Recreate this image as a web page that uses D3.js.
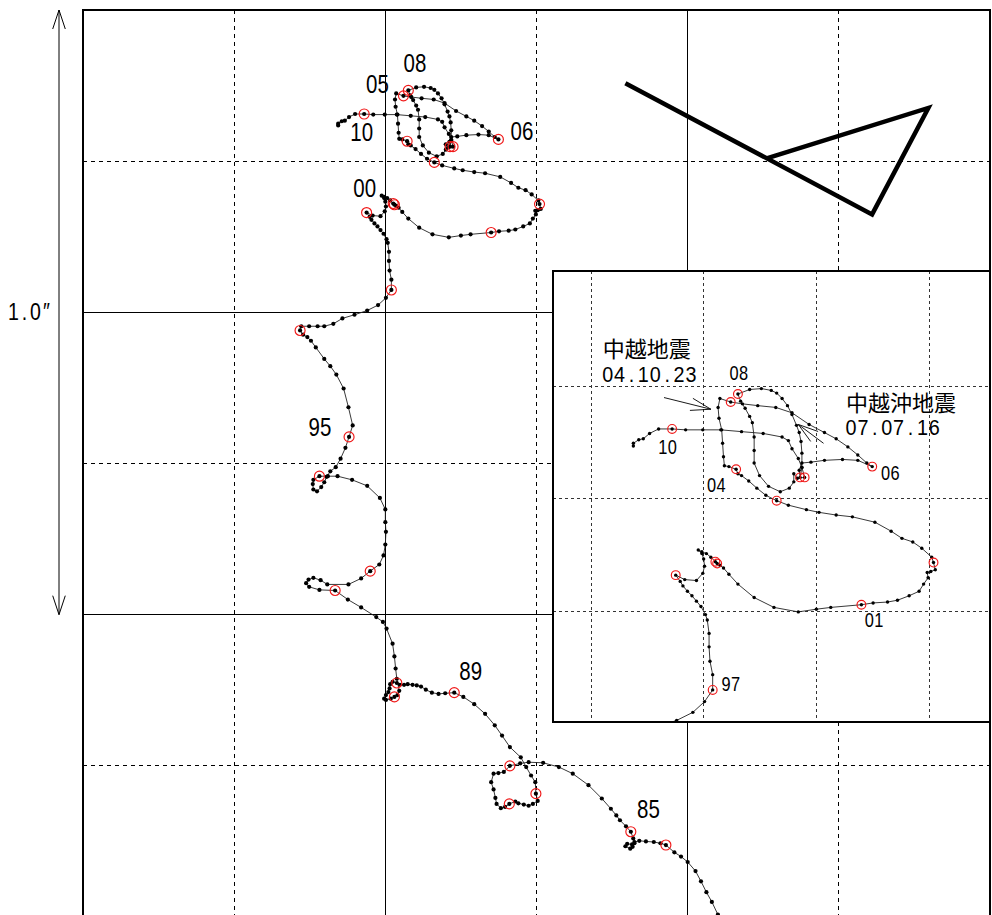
<!DOCTYPE html>
<html><head><meta charset="utf-8">
<script src="https://cdn.jsdelivr.net/npm/d3@7"></script>
<style>body{margin:0;background:#fff}svg{display:block}</style>
</head><body>
<svg id="c" width="992" height="915"></svg>
<script>
// ---- data (milli-arcsec) ----
const track = [
[557,-1012],[550,-996],[540,-975],[531,-959],[522,-941],[513,-924],[500,-909],[489,-900],[478,-893],[464,-881],[455,-878],[444,-876],[431,-875],[420,-874],[412,-876],[408,-880],[400,-879],[397,-883],[405,-887],[409,-884],[412,-878],[410,-870],[406,-859],[398,-850],[388,-840],[382,-832],[373,-821],[358,-804],[336,-782],[310,-763],[287,-752],[261,-745],[237,-744],[223,-746],[206,-750],[196,-760],[187,-762],[179,-763],[175,-777],[179,-789],[182,-803],[184,-813],[191,-820],[198,-818],[205,-813],[215,-809],[220,-812],[229,-814],[237,-816],[244,-813],[252,-808],[249,-796],[248,-777],[241,-766],[233,-752],[224,-736],[206,-719],[193,-700],[181,-683],[165,-664],[147,-648],[129,-636],[114,-629],[99,-630],[88,-631],[77,-629],[67,-624],[59,-619],[52,-617],[45,-616],[37,-615],[31,-616],[24,-616],[19,-613],[12,-611],[8,-615],[7,-622],[5,-628],[1,-633],[-2,-639],[1,-641],[9,-639],[15,-636],[20,-633],[23,-626],[19,-606],[17,-589],[15,-569],[12,-548],[2,-523],[-4,-512],[-15,-504],[-40,-488],[-62,-475],[-83,-460],[-109,-459],[-126,-454],[-131,-448],[-127,-442],[-119,-439],[-107,-443],[-96,-450],[-61,-450],[-40,-440],[-25,-428],[-10,-417],[-3,-402],[0,-384],[1,-363],[0,-347],[0,-326],[-9,-307],[-30,-287],[-55,-277],[-79,-271],[-95,-271],[-109,-271],[-119,-277],[-120,-284],[-119,-293],[-113,-296],[-106,-289],[-101,-281],[-97,-272],[-91,-263],[-82,-256],[-74,-242],[-66,-224],[-60,-206],[-54,-187],[-61,-157],[-69,-126],[-81,-103],[-91,-89],[-101,-77],[-115,-58],[-123,-47],[-129,-41],[-136,-37],[-141,-30],[-139,-23],[-126,-23],[-112,-23],[-101,-23],[-86,-19],[-71,-10],[-51,-4],[-30,3],[-12,12],[1,24],[10,37],[10,54],[7,69],[6,85],[6,100],[4,115],[2,121],[-3,130],[-8,136],[-13,142],[-18,147],[-23,153],[-26,158],[-31,165],[-21,160],[-8,159],[-1,167],[1,175],[0,183],[-2,189],[-6,193],[-2,191],[3,189],[8,185],[13,180],[15,178],[18,176],[22,173],[28,166],[38,155],[56,140],[78,129],[105,124],[125,127],[141,129],[175,132],[188,134],[204,135],[215,137],[228,142],[239,147],[244,155],[249,162],[248,168],[252,169],[257,171],[255,179],[253,185],[242,195],[232,202],[220,206],[208,214],[190,224],[165,230],[147,232],[128,235],[114,238],[94,243],[81,248],[69,254],[59,262],[50,270],[42,276],[38,278],[36,283],[28,286],[23,287],[22,297],[21,312],[20,327],[17,340],[16,352],[18,362],[30,358],[43,356],[60,354],[80,352],[98,346],[117,333],[134,324],[147,317],[160,308],[171,299],[181,290],[187,286],[171,293],[154,294],[134,293],[119,291],[109,290],[106,282],[107,274],[109,285],[109,301],[108,314],[106,324],[103,332],[98,344],[93,354],[87,362],[81,368],[75,371],[64,373],[51,372],[38,367],[41,359],[46,351],[51,342],[54,335],[56,319],[56,304],[56,290],[62,276],[72,264],[85,258],[95,262],[100,269],[100,278],[104,273],[112,274],[109,285],[105,295],[98,306],[94,315],[87,319],[66,323],[42,325],[19,327],[-1,327],[-20,327],[-35,328],[-50,328],[-60,323],[-67,317],[-72,316],[-78,312],[-78,309]
];
const yearNames = ["84","85","86","87","88","89","90","91","92","93","94","95","96","97","98","99","00","01","02","03","04","05","06","07","08","09","10"];
const yearX = [464,406,206,205,249,114,19,15,-83,-25,-109,-60,-141,10,-31,13,15,175,255,81,36,30,187,107,38,112,-35];
const yearY = [-881,-859,-750,-813,-796,-629,-613,-636,-460,-428,-271,-206,-30,37,165,180,178,132,179,248,283,358,286,274,367,274,328];

const mainLabelText = ["85","89","95","00","05","08","06","10"];
const mainLabelX = [435,141,-108,-34,-13,49,226,-39];
const mainLabelY = [-822,-594,-190,206,377,412,299,297];

const insetLabelText = ["08","10","06","04","01","97"];
const insetLabelX = [39,-40,207,14,189,30];
const insetLabelY = [390,308,279,266,115,44];

const quakeNames = ["中越地震","中越沖地震"];
const quakeDates = ["04.10.23","07.07.16"];
const quakeTextX = [-112,158];
const quakeNameY = [419,359];
const quakeDateY = [389,330];
const arrowTail = [[-44,363],[133,312]];
const arrowTip = [[8,350],[105,333]];

const triangle = [[397,379],[805,162],[898,338],[632,255]];
const scaleBarEnds = [500,-500];
const scaleBarLabel = "1.0″";

const mainSolidX = [0,500], mainDashX = [-250,250,750];
const mainSolidY = [0,-500], mainDashY = [250,-250,-750];
const insetDashX = [-125,0,125,250], insetDashY = [375,250,125];

// ---- drawing ----
const svg = d3.select("#c");
const x = d3.scaleLinear().domain([-500,1000]).range([83,990]);
const y = d3.scaleLinear().domain([-1000,500]).range([917,10]);
const xi = d3.scaleLinear().domain([-125,250]).range([591,929]);
const yi = d3.scaleLinear().domain([125,375]).range([611,386.8]);

const latin = "'Liberation Sans',Arial,sans-serif";
const cjk = "'Noto Sans CJK JP','Noto Sans CJK SC',sans-serif";

// monospaced-cell text (emulates a half-width gothic font)
function cellText(g, str, px, py, cell, size, sx, anchor){
  const n = str.length;
  const start = anchor === "start" ? cell/2 : -(n-1)*cell/2;
  const xs = d3.range(n).map(i => ((start + i*cell)/sx).toFixed(2)).join(" ");
  return g.append("text")
    .attr("transform",`translate(${px},${py}) scale(${sx},1)`)
    .attr("x",xs).attr("y",0)
    .attr("text-anchor","middle").attr("dominant-baseline","central")
    .attr("font-family",latin).attr("font-size",size).attr("fill","#000").text(str);
}

const defs = svg.append("defs");
defs.append("clipPath").attr("id","mclip").append("rect")
  .attr("x",x(-500)).attr("y",y(500)).attr("width",x(1000)-x(-500)).attr("height",y(-1000)-y(500));

const main = svg.append("g");
main.selectAll(".vs").data(mainSolidX).join("line")
  .attr("x1",d=>x(d)).attr("x2",d=>x(d)).attr("y1",y(500)).attr("y2",y(-1000))
  .attr("stroke","#000").attr("stroke-width",1).attr("shape-rendering","crispEdges");
main.selectAll(".vd").data(mainDashX).join("line")
  .attr("x1",d=>x(d)).attr("x2",d=>x(d)).attr("y1",y(500)).attr("y2",y(-1000))
  .attr("stroke","#000").attr("stroke-width",1).attr("stroke-dasharray","4,4").attr("shape-rendering","crispEdges");
main.selectAll(".hs").data(mainSolidY).join("line")
  .attr("y1",d=>y(d)).attr("y2",d=>y(d)).attr("x1",x(-500)).attr("x2",x(1000))
  .attr("stroke","#000").attr("stroke-width",1).attr("shape-rendering","crispEdges");
main.selectAll(".hd").data(mainDashY).join("line")
  .attr("y1",d=>y(d)).attr("y2",d=>y(d)).attr("x1",x(-500)).attr("x2",x(1000))
  .attr("stroke","#000").attr("stroke-width",1).attr("stroke-dasharray","4,4").attr("shape-rendering","crispEdges");
main.append("rect").attr("x",x(-500)).attr("y",y(500)).attr("width",x(1000)-x(-500)).attr("height",y(-1000)-y(500))
  .attr("fill","none").attr("stroke","#000").attr("stroke-width",1.2).attr("shape-rendering","crispEdges");

main.append("path").attr("d",d3.line().x(d=>x(d[0])).y(d=>y(d[1]))(triangle))
  .attr("fill","none").attr("stroke","#000").attr("stroke-width",4.5).attr("stroke-linejoin","miter");

function drawTrack(g, sx, sy, clipId, dotR, ringR){
  const c = g.append("g").attr("clip-path",`url(#${clipId})`);
  c.append("path").attr("d",d3.line().x(d=>sx(d[0])).y(d=>sy(d[1]))(track))
    .attr("fill","none").attr("stroke","#222").attr("stroke-width",0.9);
  c.selectAll(".dot").data(track).join("circle")
    .attr("cx",d=>sx(d[0])).attr("cy",d=>sy(d[1])).attr("r",dotR).attr("fill","#000");
  c.selectAll(".ring").data(yearNames).join("circle")
    .attr("cx",(d,i)=>sx(yearX[i])).attr("cy",(d,i)=>sy(yearY[i])).attr("r",ringR)
    .attr("fill","none").attr("stroke","#f01818").attr("stroke-width",1.15);
  return c;
}
drawTrack(main, x, y, "mclip", 2.1, 5);

mainLabelText.forEach((t,i)=>cellText(main, t, x(mainLabelX[i]), y(mainLabelY[i]), 11.5, 25, 0.82, "middle"));

// ---- inset ----
const ix0 = 553, iy0 = 271, ix1 = 990, iy1 = 722;
defs.append("clipPath").attr("id","iclip").append("rect")
  .attr("x",ix0).attr("y",iy0).attr("width",ix1-ix0).attr("height",iy1-iy0);
const inset = svg.append("g");
inset.append("rect").attr("x",ix0).attr("y",iy0).attr("width",ix1-ix0).attr("height",iy1-iy0).attr("fill","#fff");
inset.selectAll(".ivd").data(insetDashX).join("line")
  .attr("x1",d=>xi(d)).attr("x2",d=>xi(d)).attr("y1",iy0).attr("y2",iy1)
  .attr("stroke","#333").attr("stroke-width",1).attr("stroke-dasharray","3,3").attr("shape-rendering","crispEdges");
inset.selectAll(".ihd").data(insetDashY).join("line")
  .attr("y1",d=>yi(d)).attr("y2",d=>yi(d)).attr("x1",ix0).attr("x2",ix1)
  .attr("stroke","#333").attr("stroke-width",1).attr("stroke-dasharray","3,3").attr("shape-rendering","crispEdges");
drawTrack(inset, xi, yi, "iclip", 1.7, 4.4);

insetLabelText.forEach((t,i)=>cellText(inset, t, xi(insetLabelX[i]), yi(insetLabelY[i]), 9.5, 20, 0.82, "middle"));

inset.selectAll(".qn").data(quakeNames).join("text")
  .attr("x",(d,i)=>xi(quakeTextX[i])).attr("y",(d,i)=>yi(quakeNameY[i]))
  .attr("dominant-baseline","central").attr("font-family",cjk).attr("font-size",22).text(d=>d);
quakeDates.forEach((t,i)=>cellText(inset, t, xi(quakeTextX[i]) - 1, yi(quakeDateY[i]), 11.9, 22, 0.9, "start"));

function arrowHead(tx,ty,fx,fy,len,ang){
  const a = Math.atan2(fy-ty, fx-tx);
  return [[tx+len*Math.cos(a+ang), ty+len*Math.sin(a+ang)],[tx,ty],[tx+len*Math.cos(a-ang), ty+len*Math.sin(a-ang)]];
}
arrowTail.forEach((t,i)=>{
  const p = arrowTip[i];
  const X0=xi(t[0]),Y0=yi(t[1]),X1=xi(p[0]),Y1=yi(p[1]);
  inset.append("line").attr("x1",X0).attr("y1",Y0).attr("x2",X1).attr("y2",Y1).attr("stroke","#000").attr("stroke-width",0.9);
  inset.append("path").attr("d",d3.line()(arrowHead(X1,Y1,X0,Y0,21,0.3)))
    .attr("fill","none").attr("stroke","#000").attr("stroke-width",0.9);
});
inset.append("rect").attr("x",ix0).attr("y",iy0).attr("width",ix1-ix0).attr("height",iy1-iy0)
  .attr("fill","none").attr("stroke","#000").attr("stroke-width",1.2).attr("shape-rendering","crispEdges");

// ---- scale bar ----
const sbx = 59;
const yTop = y(scaleBarEnds[0]), yBot = y(scaleBarEnds[1]);
svg.append("line").attr("x1",sbx).attr("x2",sbx).attr("y1",yTop).attr("y2",yBot).attr("stroke","#000").attr("stroke-width",1);
svg.append("path").attr("d",d3.line()(arrowHead(sbx,yTop,sbx,yBot,20,0.32))).attr("fill","none").attr("stroke","#000").attr("stroke-width",1);
svg.append("path").attr("d",d3.line()(arrowHead(sbx,yBot,sbx,yTop,20,0.32))).attr("fill","none").attr("stroke","#000").attr("stroke-width",1);
cellText(svg, scaleBarLabel, 8, y((scaleBarEnds[0]+scaleBarEnds[1])/2), 11, 23, 0.85, "start");
</script>
</body></html>
